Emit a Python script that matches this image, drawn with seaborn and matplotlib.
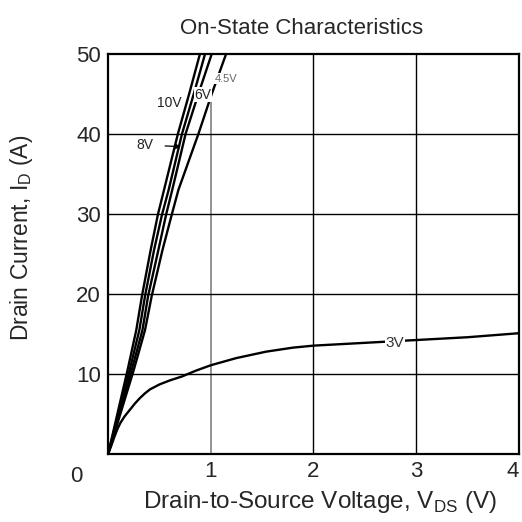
import numpy as np
import pandas as pd
import matplotlib
matplotlib.use("Agg")
import matplotlib.pyplot as plt
import seaborn as sns

sns.set_theme(style="white")
plt.rcParams['font.family'] = ['Liberation Sans', 'DejaVu Sans']
plt.rcParams['mathtext.fontset'] = 'custom'
plt.rcParams['mathtext.rm'] = 'Liberation Sans'

# drain current points read for the steep curves (A)
id_steep = [0, 10.5, 15.5, 19.75, 25.5, 29.9, 33, 40, 45, 50]
vds_10v = [0, 0.19, 0.275, 0.33, 0.415, 0.485, 0.545, 0.68, 0.79, 0.895]
vds_8v = [0, 0.21, 0.305, 0.36, 0.448, 0.525, 0.59, 0.72, 0.835, 0.945]
vds_6v = [0, 0.23, 0.335, 0.39, 0.49, 0.565, 0.625, 0.755, 0.88, 1.01]
vds_45v = [0, 0.25, 0.36, 0.425, 0.53, 0.62, 0.685, 0.88, 1.01, 1.15]

# 3V curve
vds_3v = [0, 0.03, 0.06, 0.09, 0.12, 0.16, 0.21, 0.26, 0.31, 0.36, 0.41, 0.5, 0.6,
          0.72, 0.85, 1.0, 1.25, 1.54, 1.8, 2.0, 2.5, 3.0, 3.5, 4.0]
id_3v = [0, 1.0, 2.1, 3.1, 3.9, 4.7, 5.5, 6.3, 7.0, 7.6, 8.1, 8.7, 9.2,
         9.7, 10.4, 11.1, 12.0, 12.8, 13.3, 13.55, 13.9, 14.25, 14.6, 15.1]

x_ticks = [0, 1, 2, 3, 4]
y_ticks = [10, 20, 30, 40, 50]

frames = []
for name, v in [('10V', vds_10v), ('8V', vds_8v), ('6V', vds_6v), ('4.5V', vds_45v)]:
    frames.append(pd.DataFrame({'vds': v, 'id': id_steep, 'vgs': name}))
frames.append(pd.DataFrame({'vds': vds_3v, 'id': id_3v, 'vgs': '3V'}))
df = pd.concat(frames, ignore_index=True)

fig = plt.figure(figsize=(5.22, 5.22), dpi=100)
ax = fig.add_axes([0.207, 0.130, 0.787, 0.767])

# grid
for x in [2, 3]:
    ax.axvline(x, color='black', lw=1, zorder=1)
ax.axvline(1, color='#808080', lw=1.2, ymax=0.88, zorder=1)
for y in y_ticks[:-1]:
    ax.axhline(y, color='black', lw=1, zorder=1)

sns.lineplot(data=df, x='vds', y='id', hue='vgs', units='vgs', estimator=None,
             palette=['black'] * 5, legend=False, lw=1.7, ax=ax, zorder=3)

ax.set_xlim(0, 4)
ax.set_ylim(0, 50)
ax.set_xticks(x_ticks)
ax.set_xticklabels([''] + [str(t) for t in x_ticks[1:]])
ax.set_yticks(y_ticks)
ax.tick_params(length=0, labelsize=16, pad=5)
ax.get_xticklabels()[-1].set_ha('right')
ax.text(-0.078, -0.057, '0', transform=ax.transAxes, fontsize=16, ha='center', va='center')
for s in ax.spines.values():
    s.set_color('black')
    s.set_linewidth(1.6)
    s.set_zorder(5)

ax.set_title('On-State Characteristics', fontsize=16, x=0.47, y=1.0, pad=14)
ax.set_xlabel(r'Drain-to-Source Voltage, V$_\mathrm{DS}$ (V)', fontsize=17.5)
ax.xaxis.set_label_coords(0.516, -0.088)
ax.set_ylabel(r'Drain Current, I$_\mathrm{D}$ (A)', fontsize=16.5)
ax.yaxis.set_label_coords(-0.178, 0.54)

box = dict(facecolor='white', edgecolor='none', pad=0.5)
ax.text(0.60, 43.9, '10V', fontsize=10, color='#222222', ha='center', va='center', zorder=4)
ax.text(0.925, 44.9, '6V', fontsize=10, color='#222222', ha='center', va='center', bbox=box, zorder=4)
ax.text(1.15, 46.9, '4.5V', fontsize=8, color='#666666', ha='center', va='center', bbox=box, zorder=4)
ax.annotate('8V', xy=(0.71, 38.4), xytext=(0.36, 38.6), fontsize=10, color='#222222',
            ha='center', va='center', zorder=4,
            arrowprops=dict(arrowstyle='-|>', color='black', lw=0.9, mutation_scale=8,
                            shrinkA=6, shrinkB=0))
ax.text(2.79, 13.9, '3V', fontsize=11, color='#333333', ha='center', va='center', bbox=box, zorder=4)

fig.savefig('out.png', dpi=100)
